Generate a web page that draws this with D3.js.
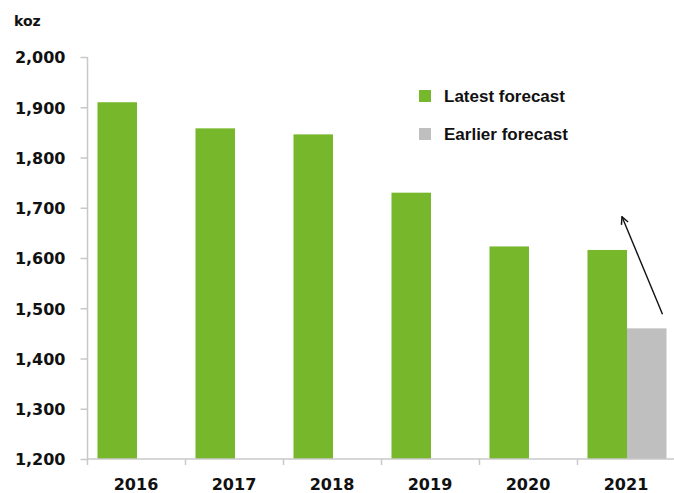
<!DOCTYPE html>
<html>
<head>
<meta charset="utf-8">
<script src="https://cdn.jsdelivr.net/npm/d3@7"></script>
<style>
  html, body { margin: 0; padding: 0; background: #fff; }
  svg { display: block; }
</style>
</head>
<body>
<script>
// Annual output, thousand ounces
const years = ["2016", "2017", "2018", "2019", "2020", "2021"];
const latestForecast = [1910, 1858, 1846, 1730, 1623, 1616];
const earlierForecast = [null, null, null, null, null, 1460];
const seriesNames = ["Latest forecast", "Earlier forecast"];
const seriesColors = ["#77b72b", "#bfbfbf"];
const yTicks = [1200, 1300, 1400, 1500, 1600, 1700, 1800, 1900, 2000];
// Revision arrow for 2021: from the earlier figure up towards the latest one
const arrowYear = "2021";
const arrowFromValue = 1488;
const arrowToValue = 1682;

const W = 674, H = 493;
const svg = d3.select("body").append("svg").attr("width", W).attr("height", H);

const numFont = "'DejaVu Sans', Verdana, sans-serif";
const textFont = "'Liberation Sans', Arial, sans-serif";
const axisColor = "#c8c8c8";

const y = d3.scaleLinear().domain([1200, 2000]).range([459, 57]);
const x = d3.scaleBand().domain(years).range([88, 676]).paddingInner(0).paddingOuter(0);
const sub = d3.scaleBand().domain(seriesNames).range([0, x.bandwidth()]).paddingInner(0).paddingOuter(0.24);

// Bars
const rows = [];
years.forEach((yr, i) => {
  rows.push({ year: yr, series: seriesNames[0], value: latestForecast[i], color: seriesColors[0] });
  if (earlierForecast[i] != null)
    rows.push({ year: yr, series: seriesNames[1], value: earlierForecast[i], color: seriesColors[1] });
});

svg.append("g").selectAll("rect").data(rows).join("rect")
  .attr("x", d => x(d.year) + sub(d.series))
  .attr("width", sub.bandwidth())
  .attr("y", d => y(d.value))
  .attr("height", d => y(1200) - y(d.value))
  .attr("fill", d => d.color);

// Y axis
const yAxis = svg.append("g").attr("transform", "translate(87.5,0)")
  .call(d3.axisLeft(y).tickValues(yTicks).tickFormat(d3.format(",")).tickSize(7).tickPadding(15));
yAxis.select(".domain").attr("stroke", axisColor).attr("stroke-width", 1.5)
  .attr("d", `M0,${y(2000)}V${y(1200)}`);
yAxis.selectAll(".tick line").attr("stroke", axisColor).attr("stroke-width", 1.5);
yAxis.selectAll(".tick text")
  .attr("fill", "#111").attr("font-family", numFont).attr("font-weight", "bold")
  .attr("font-size", 16).attr("dy", "0.36em");

// X axis: baseline, boundary ticks and year labels
const xAxis = svg.append("g");
xAxis.append("line")
  .attr("x1", 87.5).attr("x2", W).attr("y1", y(1200)).attr("y2", y(1200))
  .attr("stroke", axisColor).attr("stroke-width", 1.5);
const bounds = years.map(d => x(d)).concat([x.range()[1]]);
xAxis.selectAll("line.b").data(bounds).join("line").attr("class", "b")
  .attr("x1", d => d - 0.5).attr("x2", d => d - 0.5)
  .attr("y1", y(1200)).attr("y2", y(1200) + 6)
  .attr("stroke", axisColor).attr("stroke-width", 1.5);
xAxis.selectAll("text").data(years).join("text")
  .attr("x", d => x(d) + x.bandwidth() / 2 - 1)
  .attr("y", 490)
  .attr("text-anchor", "middle")
  .attr("fill", "#111").attr("font-family", numFont).attr("font-weight", "bold")
  .attr("font-size", 16)
  .text(d => d);

// Unit label
svg.append("text").attr("x", 14).attr("y", 26)
  .attr("fill", "#111").attr("font-family", numFont).attr("font-weight", "bold")
  .attr("font-size", 14).text("koz");

// Legend
const legend = svg.append("g");
seriesNames.forEach((name, i) => {
  const ly = 90 + i * 38;
  legend.append("rect").attr("x", 419).attr("y", ly).attr("width", 12).attr("height", 12)
    .attr("fill", seriesColors[i]);
  legend.append("text").attr("x", 444).attr("y", ly + 12)
    .attr("fill", "#111").attr("font-family", textFont).attr("font-weight", "bold")
    .attr("font-size", 17).text(name);
});

// Revision arrow
svg.append("defs").append("marker")
  .attr("id", "head").attr("viewBox", "0 0 10 10").attr("refX", 9).attr("refY", 5)
  .attr("markerWidth", 9).attr("markerHeight", 9).attr("markerUnits", "userSpaceOnUse")
  .attr("orient", "auto")
  .append("path").attr("d", "M1,1L9,5L1,9").attr("fill", "none")
  .attr("stroke", "#111").attr("stroke-width", 1.6);

const ax0 = x(arrowYear) + sub(seriesNames[1]) + sub.bandwidth() - 4;
const ax1 = x(arrowYear) + sub(seriesNames[0]) + sub.bandwidth() - 5;
svg.append("line")
  .attr("x1", ax0).attr("y1", y(arrowFromValue))
  .attr("x2", ax1).attr("y2", y(arrowToValue))
  .attr("stroke", "#111").attr("stroke-width", 1.4)
  .attr("marker-end", "url(#head)");
</script>
</body>
</html>
